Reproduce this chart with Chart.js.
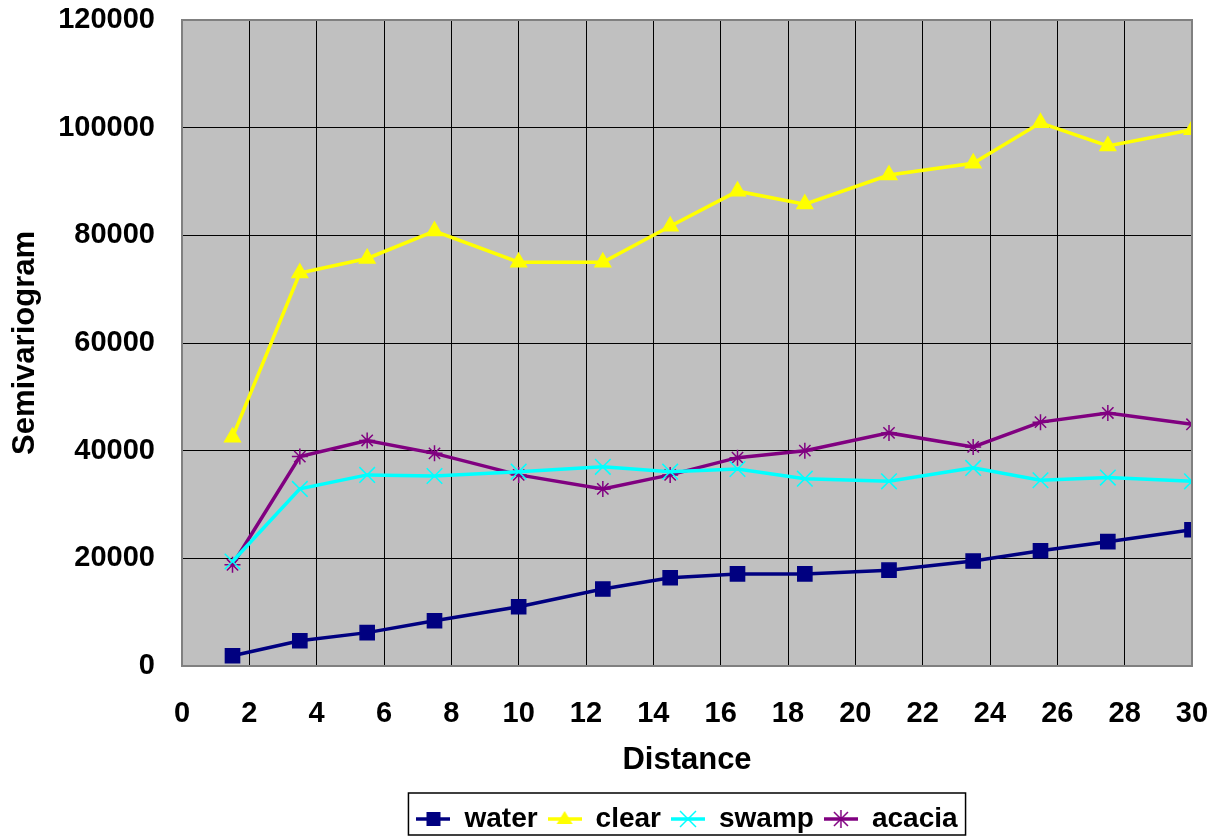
<!DOCTYPE html>
<html>
<head>
<meta charset="utf-8">
<script src="https://cdn.jsdelivr.net/npm/chart.js@4/dist/chart.umd.min.js"></script>
<style>
  html, body { margin: 0; padding: 0; background: #fff; }
  #wrap { width: 1216px; height: 836px; position: relative; }
</style>
</head>
<body>
<div id="wrap"><canvas id="semiChart"></canvas></div>
<script>
// lag distances (x) and semivariogram per land cover class
const distances = [1.5, 3.5, 5.5, 7.5, 10, 12.5, 14.5, 16.5, 18.5, 21, 23.5, 25.5, 27.5, 30];
const water  = [1900, 4700, 6200, 8400, 11000, 14300, 16400, 17100, 17100, 17800, 19500, 21400, 23100, 25300];
const clear  = [42500, 73000, 75700, 80800, 75000, 75000, 81700, 88200, 85800, 91200, 93400, 100900, 96600, 99600];
const swamp  = [19400, 32900, 35500, 35300, 36100, 37000, 36100, 36600, 34800, 34300, 36800, 34500, 35000, 34300];
const acacia = [18800, 38900, 41900, 39500, 35500, 32900, 35500, 38700, 40000, 43300, 40700, 45300, 47000, 44900];

const xTicks = [0, 2, 4, 6, 8, 10, 12, 14, 16, 18, 20, 22, 24, 26, 28, 30];
const yTicks = [0, 20000, 40000, 60000, 80000, 100000, 120000];

const FONT = "'Liberation Sans', Arial, sans-serif";

// small legend sample: line + marker
function legendIcon(color, style) {
  const c = document.createElement("canvas");
  c.width = 34; c.height = 20;
  const g = c.getContext("2d");
  g.strokeStyle = color; g.fillStyle = color; g.lineWidth = 3.5;
  g.beginPath(); g.moveTo(0, 10); g.lineTo(34, 10); g.stroke();
  g.lineWidth = 1.5;
  if (style === "rect") g.fillRect(10, 3, 14, 14);
  if (style === "triangle") { g.beginPath(); g.moveTo(17, 2); g.lineTo(25, 15); g.lineTo(9, 15); g.closePath(); g.fill(); }
  if (style === "crossRot") { g.beginPath(); g.moveTo(9, 2); g.lineTo(25, 18); g.moveTo(25, 2); g.lineTo(9, 18); g.stroke(); }
  if (style === "star") { g.beginPath(); g.moveTo(17, 1); g.lineTo(17, 19); g.moveTo(10, 3); g.lineTo(24, 17); g.moveTo(24, 3); g.lineTo(10, 17); g.stroke(); }
  return c;
}

function series(label, values, color, style, radius) {
  return {
    label,
    data: distances.map((d, i) => ({ x: d, y: values[i] })),
    showLine: true,
    borderColor: color,
    backgroundColor: color,
    borderWidth: 3.5,
    pointStyle: style,
    pointRadius: radius,
    pointBorderWidth: 1.5,
    pointBorderColor: color,
    pointBackgroundColor: color,
    legendIcon: legendIcon(color, style)
  };
}

const plotBg = {
  id: "plotBg",
  afterLayout(chart) {
    // legend centred under the plot area, not the whole canvas
    const lg = chart.legend, a = chart.chartArea;
    if (lg) { lg.left = a.left; lg.right = a.right; lg.width = a.right - a.left; }
  },
  beforeDraw(chart) {
    const a = chart.chartArea, ctx = chart.ctx;
    ctx.save();
    ctx.fillStyle = "#c0c0c0";
    ctx.fillRect(a.left, a.top, a.right - a.left, a.bottom - a.top);
    ctx.restore();
  },
  afterDraw(chart) {
    const a = chart.chartArea, ctx = chart.ctx;
    ctx.save();
    ctx.strokeStyle = "#808080"; ctx.lineWidth = 2;
    ctx.strokeRect(a.left, a.top, a.right - a.left, a.bottom - a.top);
    // legend frame
    const lg = chart.legend;
    if (lg && lg.legendHitBoxes.length) {
      const hb = lg.legendHitBoxes;
      const l = hb[0].left - 8, r = hb[hb.length - 1].left + hb[hb.length - 1].width + 8;
      ctx.strokeStyle = "#000"; ctx.lineWidth = 1.5;
      ctx.strokeRect(l, 793, r - l, 42);
    }
    ctx.restore();
  }
};

new Chart(document.getElementById("semiChart"), {
  type: "scatter",
  data: {
    datasets: [
      series("water", water, "#000080", "rect", 10),
      series("clear", clear, "#ffff00", "triangle", 9),
      series("swamp", swamp, "#00ffff", "crossRot", 11),
      series("acacia", acacia, "#800080", "star", 8)
    ]
  },
  options: {
    responsive: true,
    maintainAspectRatio: false,
    animation: false,
    layout: { padding: { top: 20, right: 24, left: 0, bottom: -7 } },
    plugins: {
      tooltip: { enabled: false },
      legend: {
        position: "bottom",
        labels: {
          usePointStyle: true,
          pointStyleWidth: 34,
          padding: 10,
          color: "#000",
          font: { family: FONT, size: 28, weight: "bold" },
          generateLabels(chart) {
            return chart.data.datasets.map((ds, i) => ({
              text: ds.label,
              pointStyle: ds.legendIcon,
              fillStyle: ds.borderColor,
              strokeStyle: ds.borderColor,
              lineWidth: 0,
              datasetIndex: i,
              fontColor: "#000"
            }));
          }
        }
      }
    },
    scales: {
      x: {
        type: "linear",
        min: 0, max: 30,
        afterBuildTicks(scale) { scale.ticks = xTicks.map(v => ({ value: v })); },
        afterFit(scale) { scale.height = 129; scale.paddingLeft = 0; scale.paddingRight = 0; },
        grid: { color: "#000", lineWidth: 1, drawTicks: false },
        border: { display: false },
        ticks: { padding: 31, color: "#000", font: { family: FONT, size: 29, weight: "bold" }, maxRotation: 0, callback: v => String(v) },
        title: { display: true, text: "Distance", color: "#000", padding: { top: 8, bottom: 16 }, font: { family: FONT, size: 31, weight: "bold" } }
      },
      y: {
        min: 0, max: 120000,
        afterBuildTicks(scale) { scale.ticks = yTicks.map(v => ({ value: v })); },
        afterFit(scale) { scale.width = 182; scale.paddingTop = 0; scale.paddingBottom = 0; },
        grid: { color: "#000", lineWidth: 1, drawTicks: false },
        border: { display: false },
        ticks: { padding: 27, color: "#000", font: { family: FONT, size: 29, weight: "bold" }, callback: v => String(v) },
        title: { display: true, text: "Semivariogram", color: "#000", padding: { top: 7, bottom: 0 }, font: { family: FONT, size: 31, weight: "bold" } }
      }
    }
  },
  plugins: [plotBg]
});
</script>
</body>
</html>
